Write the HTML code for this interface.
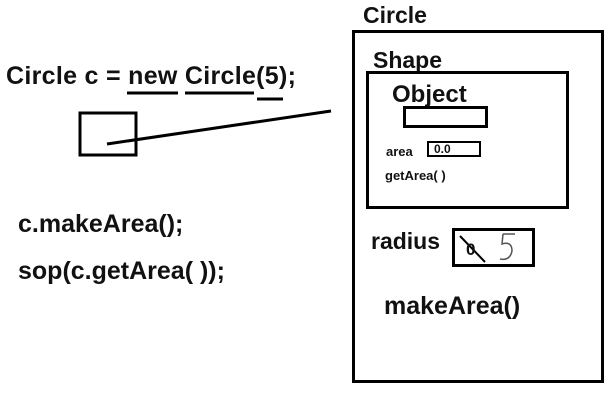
<!DOCTYPE html>
<html><head><style>
body{margin:0;width:616px;height:401px;background:#fff;overflow:hidden;position:relative;font-family:"Liberation Sans",sans-serif;font-weight:bold;color:#111}
.t{position:absolute;white-space:nowrap}
.b{position:absolute;border:3px solid #000;box-sizing:border-box}
</style></head><body>
<div class="t" style="left:6px;top:62px;font-size:25px;letter-spacing:0.3px">Circle c = new Circle(5);</div>
<svg width="616" height="401" style="position:absolute;left:0;top:0">
<g stroke="#000" stroke-width="3" fill="none">
<line x1="127" y1="93" x2="178" y2="93"/>
<line x1="185" y1="93" x2="254" y2="93"/>
<line x1="257" y1="99" x2="283" y2="99"/>
<rect x="80" y="113" width="56" height="42"/>
<line x1="107" y1="144" x2="331" y2="111"/>
<line x1="460" y1="236" x2="485" y2="262" stroke-width="2"/>
</g>
<path d="M503 234 h12 M503 234 l-1 10 q10 -3 10 7 q-2 10 -12 8" stroke="#555" stroke-width="1.5" fill="none"/>
</svg>
<div class="t" style="left:363px;top:2px;font-size:23px">Circle</div>
<div class="b" style="left:352px;top:30px;width:252px;height:353px"></div>
<div class="t" style="left:373px;top:47px;font-size:23px">Shape</div>
<div class="b" style="left:366px;top:71px;width:203px;height:138px"></div>
<div class="t" style="left:392px;top:81px;font-size:24px">Object</div>
<div class="b" style="left:403px;top:106px;width:85px;height:22px"></div>
<div class="t" style="left:386px;top:144px;font-size:13px">area</div>
<div class="b" style="left:427px;top:141px;width:54px;height:16px;border-width:2px"></div>
<div class="t" style="left:434px;top:142px;font-size:12px">0.0</div>
<div class="t" style="left:385px;top:168px;font-size:13px">getArea( )</div>
<div class="t" style="left:371px;top:228px;font-size:23px">radius</div>
<div class="b" style="left:452px;top:228px;width:83px;height:39px"></div>
<div class="t" style="left:466px;top:240px;font-size:17px">0</div>
<div class="t" style="left:384px;top:292px;font-size:25px">makeArea()</div>
<div class="t" style="left:18px;top:210px;font-size:25px">c.makeArea();</div>
<div class="t" style="left:18px;top:257px;font-size:25px">sop(c.getArea( ));</div>
</body></html>
